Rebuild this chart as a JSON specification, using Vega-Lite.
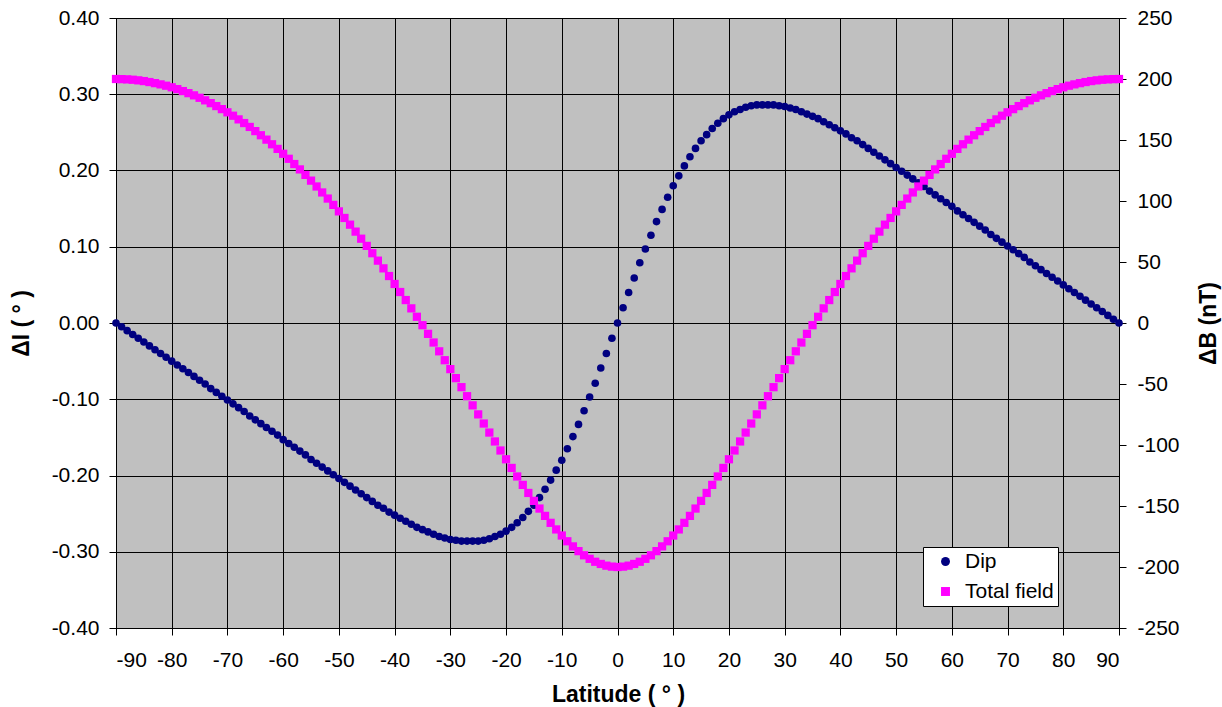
{
"$schema":"https://vega.github.io/schema/vega-lite/v6.json",
"autosize":"none",
"width":1003,"height":610,
"padding":{"left":116,"top":18,"right":103,"bottom":79},
"background":"#FFFFFF",
"data":{"values":[
{"lat":-90,"dip":0,"tf":200},{"lat":-89,"dip":-0.005,"tf":199.9},{"lat":-88,"dip":-0.010,"tf":199.7},{"lat":-87,"dip":-0.015,"tf":199.4},{"lat":-86,"dip":-0.020,"tf":198.9},{"lat":-85,"dip":-0.025,"tf":198.3},{"lat":-84,"dip":-0.030,"tf":197.5},{"lat":-83,"dip":-0.035,"tf":196.6},{"lat":-82,"dip":-0.040,"tf":195.6},{"lat":-81,"dip":-0.045,"tf":194.5},
{"lat":-80,"dip":-0.050,"tf":193.2},{"lat":-79,"dip":-0.055,"tf":191.7},{"lat":-78,"dip":-0.060,"tf":190.1},{"lat":-77,"dip":-0.065,"tf":188.4},{"lat":-76,"dip":-0.070,"tf":186.6},{"lat":-75,"dip":-0.075,"tf":184.6},{"lat":-74,"dip":-0.080,"tf":182.5},{"lat":-73,"dip":-0.086,"tf":180.2},{"lat":-72,"dip":-0.091,"tf":177.8},{"lat":-71,"dip":-0.096,"tf":175.3},
{"lat":-70,"dip":-0.101,"tf":172.7},{"lat":-69,"dip":-0.106,"tf":169.9},{"lat":-68,"dip":-0.111,"tf":166.9},{"lat":-67,"dip":-0.116,"tf":163.9},{"lat":-66,"dip":-0.122,"tf":160.7},{"lat":-65,"dip":-0.127,"tf":157.3},{"lat":-64,"dip":-0.132,"tf":153.9},{"lat":-63,"dip":-0.137,"tf":150.3},{"lat":-62,"dip":-0.142,"tf":146.5},{"lat":-61,"dip":-0.147,"tf":142.7},
{"lat":-60,"dip":-0.153,"tf":138.7},{"lat":-59,"dip":-0.158,"tf":134.6},{"lat":-58,"dip":-0.163,"tf":130.3},{"lat":-57,"dip":-0.168,"tf":125.9},{"lat":-56,"dip":-0.173,"tf":121.4},{"lat":-55,"dip":-0.179,"tf":116.7},{"lat":-54,"dip":-0.184,"tf":111.9},{"lat":-53,"dip":-0.189,"tf":107.0},{"lat":-52,"dip":-0.194,"tf":102.0},{"lat":-51,"dip":-0.199,"tf":96.8},
{"lat":-50,"dip":-0.204,"tf":91.5},{"lat":-49,"dip":-0.209,"tf":86.1},{"lat":-48,"dip":-0.214,"tf":80.6},{"lat":-47,"dip":-0.219,"tf":74.9},{"lat":-46,"dip":-0.224,"tf":69.1},{"lat":-45,"dip":-0.229,"tf":63.2},{"lat":-44,"dip":-0.234,"tf":57.2},{"lat":-43,"dip":-0.239,"tf":51.1},{"lat":-42,"dip":-0.243,"tf":44.8},{"lat":-41,"dip":-0.248,"tf":38.5},
{"lat":-40,"dip":-0.252,"tf":32.0},{"lat":-39,"dip":-0.256,"tf":25.4},{"lat":-38,"dip":-0.260,"tf":18.8},{"lat":-37,"dip":-0.264,"tf":12.0},{"lat":-36,"dip":-0.268,"tf":5.1},{"lat":-35,"dip":-0.271,"tf":-1.8},{"lat":-34,"dip":-0.274,"tf":-8.9},{"lat":-33,"dip":-0.277,"tf":-16.0},{"lat":-32,"dip":-0.280,"tf":-23.2},{"lat":-31,"dip":-0.282,"tf":-30.5},
{"lat":-30,"dip":-0.284,"tf":-37.8},{"lat":-29,"dip":-0.285,"tf":-45.2},{"lat":-28,"dip":-0.286,"tf":-52.6},{"lat":-27,"dip":-0.286,"tf":-60.0},{"lat":-26,"dip":-0.286,"tf":-67.5},{"lat":-25,"dip":-0.286,"tf":-74.9},{"lat":-24,"dip":-0.285,"tf":-82.4},{"lat":-23,"dip":-0.283,"tf":-89.8},{"lat":-22,"dip":-0.280,"tf":-97.1},{"lat":-21,"dip":-0.277,"tf":-104.5},
{"lat":-20,"dip":-0.273,"tf":-111.7},{"lat":-19,"dip":-0.268,"tf":-118.8},{"lat":-18,"dip":-0.262,"tf":-125.8},{"lat":-17,"dip":-0.255,"tf":-132.7},{"lat":-16,"dip":-0.247,"tf":-139.3},{"lat":-15,"dip":-0.239,"tf":-145.8},{"lat":-14,"dip":-0.229,"tf":-152.1},{"lat":-13,"dip":-0.218,"tf":-158.1},{"lat":-12,"dip":-0.206,"tf":-163.8},{"lat":-11,"dip":-0.193,"tf":-169.2},
{"lat":-10,"dip":-0.180,"tf":-174.2},{"lat":-9,"dip":-0.165,"tf":-178.9},{"lat":-8,"dip":-0.149,"tf":-183.1},{"lat":-7,"dip":-0.133,"tf":-187.0},{"lat":-6,"dip":-0.115,"tf":-190.4},{"lat":-5,"dip":-0.097,"tf":-193.3},{"lat":-4,"dip":-0.079,"tf":-195.7},{"lat":-3,"dip":-0.059,"tf":-197.5},{"lat":-2,"dip":-0.040,"tf":-198.9},{"lat":-1,"dip":-0.020,"tf":-199.7},
{"lat":0,"dip":0,"tf":-200.0},
{"lat":1,"dip":0.020,"tf":-199.7},{"lat":2,"dip":0.040,"tf":-198.9},{"lat":3,"dip":0.059,"tf":-197.5},{"lat":4,"dip":0.079,"tf":-195.7},{"lat":5,"dip":0.097,"tf":-193.3},{"lat":6,"dip":0.115,"tf":-190.4},{"lat":7,"dip":0.133,"tf":-187.0},{"lat":8,"dip":0.149,"tf":-183.1},{"lat":9,"dip":0.165,"tf":-178.9},{"lat":10,"dip":0.180,"tf":-174.2},
{"lat":11,"dip":0.193,"tf":-169.2},{"lat":12,"dip":0.206,"tf":-163.8},{"lat":13,"dip":0.218,"tf":-158.1},{"lat":14,"dip":0.229,"tf":-152.1},{"lat":15,"dip":0.239,"tf":-145.8},{"lat":16,"dip":0.247,"tf":-139.3},{"lat":17,"dip":0.255,"tf":-132.7},{"lat":18,"dip":0.262,"tf":-125.8},{"lat":19,"dip":0.268,"tf":-118.8},{"lat":20,"dip":0.273,"tf":-111.7},
{"lat":21,"dip":0.277,"tf":-104.5},{"lat":22,"dip":0.280,"tf":-97.1},{"lat":23,"dip":0.283,"tf":-89.8},{"lat":24,"dip":0.285,"tf":-82.4},{"lat":25,"dip":0.286,"tf":-74.9},{"lat":26,"dip":0.286,"tf":-67.5},{"lat":27,"dip":0.286,"tf":-60.0},{"lat":28,"dip":0.286,"tf":-52.6},{"lat":29,"dip":0.285,"tf":-45.2},{"lat":30,"dip":0.284,"tf":-37.8},
{"lat":31,"dip":0.282,"tf":-30.5},{"lat":32,"dip":0.280,"tf":-23.2},{"lat":33,"dip":0.277,"tf":-16.0},{"lat":34,"dip":0.274,"tf":-8.9},{"lat":35,"dip":0.271,"tf":-1.8},{"lat":36,"dip":0.268,"tf":5.1},{"lat":37,"dip":0.264,"tf":12.0},{"lat":38,"dip":0.260,"tf":18.8},{"lat":39,"dip":0.256,"tf":25.4},{"lat":40,"dip":0.252,"tf":32.0},
{"lat":41,"dip":0.248,"tf":38.5},{"lat":42,"dip":0.243,"tf":44.8},{"lat":43,"dip":0.239,"tf":51.1},{"lat":44,"dip":0.234,"tf":57.2},{"lat":45,"dip":0.229,"tf":63.2},{"lat":46,"dip":0.224,"tf":69.1},{"lat":47,"dip":0.219,"tf":74.9},{"lat":48,"dip":0.214,"tf":80.6},{"lat":49,"dip":0.209,"tf":86.1},{"lat":50,"dip":0.204,"tf":91.5},
{"lat":51,"dip":0.199,"tf":96.8},{"lat":52,"dip":0.194,"tf":102.0},{"lat":53,"dip":0.189,"tf":107.0},{"lat":54,"dip":0.184,"tf":111.9},{"lat":55,"dip":0.179,"tf":116.7},{"lat":56,"dip":0.173,"tf":121.4},{"lat":57,"dip":0.168,"tf":125.9},{"lat":58,"dip":0.163,"tf":130.3},{"lat":59,"dip":0.158,"tf":134.6},{"lat":60,"dip":0.153,"tf":138.7},
{"lat":61,"dip":0.147,"tf":142.7},{"lat":62,"dip":0.142,"tf":146.5},{"lat":63,"dip":0.137,"tf":150.3},{"lat":64,"dip":0.132,"tf":153.9},{"lat":65,"dip":0.127,"tf":157.3},{"lat":66,"dip":0.122,"tf":160.7},{"lat":67,"dip":0.116,"tf":163.9},{"lat":68,"dip":0.111,"tf":166.9},{"lat":69,"dip":0.106,"tf":169.9},{"lat":70,"dip":0.101,"tf":172.7},
{"lat":71,"dip":0.096,"tf":175.3},{"lat":72,"dip":0.091,"tf":177.8},{"lat":73,"dip":0.086,"tf":180.2},{"lat":74,"dip":0.080,"tf":182.5},{"lat":75,"dip":0.075,"tf":184.6},{"lat":76,"dip":0.070,"tf":186.6},{"lat":77,"dip":0.065,"tf":188.4},{"lat":78,"dip":0.060,"tf":190.1},{"lat":79,"dip":0.055,"tf":191.7},{"lat":80,"dip":0.050,"tf":193.2},
{"lat":81,"dip":0.045,"tf":194.5},{"lat":82,"dip":0.040,"tf":195.6},{"lat":83,"dip":0.035,"tf":196.6},{"lat":84,"dip":0.030,"tf":197.5},{"lat":85,"dip":0.025,"tf":198.3},{"lat":86,"dip":0.020,"tf":198.9},{"lat":87,"dip":0.015,"tf":199.4},{"lat":88,"dip":0.010,"tf":199.7},{"lat":89,"dip":0.005,"tf":199.9},{"lat":90,"dip":0,"tf":200.0}
]},
"encoding":{
  "x":{"field":"lat","type":"quantitative","scale":{"domain":[-90,90],"nice":false,"zero":false},
    "axis":{"title":"Latitude ( ° )","values":[-90,-80,-70,-60,-50,-40,-30,-20,-10,0,10,20,30,40,50,60,70,80,90],
      "labelExpr":"replace(format(datum.value,'d'),'\u2212','-')","grid":true,"labelPadding":14,
      "titleX":502,"titleY":73,"titleBaseline":"alphabetic","titleAlign":"center"}}
},
"layer":[
  {"mark":{"type":"point","filled":true,"opacity":1,"size":58},
   "encoding":{
     "y":{"field":"dip","type":"quantitative","scale":{"domain":[-0.4,0.4],"nice":false,"zero":false},
       "axis":{"title":"ΔI ( ° )","orient":"left","values":[-0.4,-0.3,-0.2,-0.1,0,0.1,0.2,0.3,0.4],
         "labelExpr":"replace(format(datum.value,'.2f'),'\u2212','-')","grid":true,"labelPadding":10,
         "titleX":-95,"titleY":305,"titleAngle":270,"titleBaseline":"middle","titleAlign":"center"}},
     "color":{"datum":"Dip","scale":{"domain":["Dip","Total field"],"range":["#000080","#FF00FF"]}},
     "shape":{"datum":"Dip","scale":{"domain":["Dip","Total field"],"range":["circle","square"]}}
   }},
  {"mark":{"type":"point","filled":true,"opacity":1,"size":68},
   "encoding":{
     "y":{"field":"tf","type":"quantitative","scale":{"domain":[-250,250],"nice":false,"zero":false},
       "axis":{"title":"ΔB (nT)","orient":"right","values":[-250,-200,-150,-100,-50,0,50,100,150,200,250],
         "labelExpr":"replace(format(datum.value,'d'),'\u2212','-')","grid":false,"labelPadding":11,
         "titleX":89,"titleY":305,"titleAngle":270,"titleBaseline":"middle","titleAlign":"center"}},
     "color":{"datum":"Total field"},
     "shape":{"datum":"Total field"}
   }}
],
"resolve":{"scale":{"y":"independent"}},
"config":{
  "font":"Liberation Sans",
  "view":{"fill":"#C0C0C0","stroke":"#000000","strokeWidth":1},
  "axis":{"labelFont":"Liberation Sans","labelFontSize":21,"labelColor":"#000000","titleFont":"Liberation Sans","titleFontSize":23,"titleFontWeight":"bold","titleColor":"#000000","domainColor":"#000000","tickColor":"#000000","tickSize":7,"gridColor":"#000000","gridOpacity":1,"gridWidth":1,"domainWidth":1},
  "legend":{"title":null,"orient":"none","legendX":807,"legendY":529,"fillColor":"#FFFFFF","strokeColor":"#000000","padding":4,"symbolOffset":8,"symbolSize":80,"labelFont":"Liberation Sans","labelFontSize":21,"labelColor":"#000000","labelOffset":9,"rowPadding":8,"symbolStrokeWidth":0}
}
}
